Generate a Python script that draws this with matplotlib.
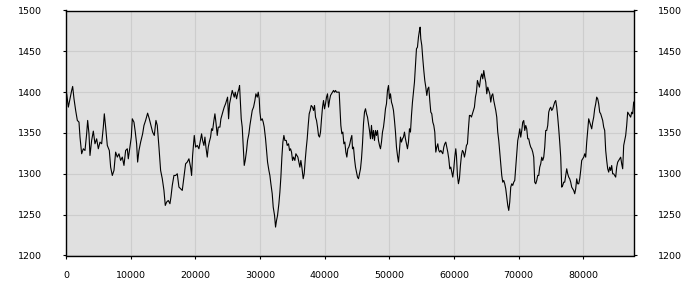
import numpy as np
import matplotlib
matplotlib.use('Agg')
import matplotlib.pyplot as plt

# ── データ ──────────────────────────────────────────────────────────
x_pts = [
    0, 103, 361, 618, 876, 1030, 1236, 1494, 1752, 2009, 2164, 2421, 2679, 2937,
    3194, 3349, 3555, 3709, 3967, 4225, 4482, 4740, 4997, 5255, 5513, 5770, 5925,
    6131, 6388, 6698, 6904, 7161, 7419, 7676, 7934, 8192, 8449, 8707, 8964, 9222,
    9480, 9634, 9892, 10098, 10252, 10510, 10716, 10922, 11077, 11283, 11540,
    11850, 12056, 12313, 12622, 12880, 13138, 13395, 13653, 13910, 14116, 14374,
    14632, 14889, 15147, 15353, 15559, 15817, 16074, 16229, 16435, 16692, 16950,
    17208, 17465, 17723, 17980, 18238, 18496, 18753, 19011, 19268, 19423, 19578,
    19835, 20041, 20299, 20556,
    20969, 21123, 21329, 21484, 21638, 21844, 22000, 22154, 22360, 22514, 22669,
    22875, 23029, 23184, 23390, 23545, 23802, 23957, 24163, 24317, 24472, 24678,
    24833, 24987, 25142, 25296, 25502, 25708, 25863, 26018, 26172, 26378, 26584,
    26739, 26842, 26945, 27099, 27254, 27409, 27563, 27718, 27924, 28078, 28284,
    28439, 28594, 28800, 29006, 29212, 29366, 29572, 29727, 29881, 29985, 30139,
    30345, 30500, 30654, 30860, 31015, 31170, 31376, 31530, 31685, 31891, 32045,
    32251, 32406, 32560, 32715, 32921, 33076, 33230, 33385, 33539, 33694, 33849,
    34055, 34209, 34415, 34570, 34724, 34879, 35034, 35188, 35394, 35549, 35703,
    35858, 36012, 36167, 36322, 36476, 36682, 36837, 36991, 37146, 37300, 37455,
    37610, 37764, 37919, 38125, 38279, 38434, 38589, 38743, 38898, 39052, 39207,
    39361, 39516, 39671, 39825, 39980, 40134, 40289, 40443, 40598, 40752, 40907,
    41062, 41216, 41371, 41525, 41680, 41834, 42092, 42246,
    42504, 42658, 42813, 42967, 43122, 43276, 43431, 43585, 43740, 43895, 44049,
    44204, 44307, 44461, 44616, 44770, 44925, 45080, 45234, 45389, 45543, 45698,
    45852, 46007, 46161, 46316, 46471, 46625, 46780, 46934, 47089, 47243, 47398,
    47552, 47707, 47862, 48016, 48171, 48325, 48480, 48634, 48789, 48944, 49098,
    49253, 49407, 49562, 49716, 49871, 50025, 50180, 50334, 50489, 50644, 50798,
    50953, 51107, 51262, 51416, 51571, 51725, 51880, 52035, 52189, 52344, 52498,
    52653, 52807, 52962, 53116, 53271, 53426, 53580, 53735, 53889, 54044, 54198,
    54353, 54507, 54662, 54765, 54868, 55023, 55177, 55332, 55486, 55641, 55796,
    55950, 56105, 56259, 56414, 56568, 56723, 56877, 57032, 57187, 57341, 57496,
    57650, 57805, 57959, 58114, 58268, 58423, 58578, 58732, 58887, 59041, 59196,
    59350, 59505, 59659, 59814, 59969, 60123, 60278, 60381, 60535, 60690, 60844,
    60999, 61153, 61308, 61463, 61617, 61772, 61926, 62081, 62235, 62390, 62545,
    62699, 62854, 63008, 63163, 63317, 63472, 63626, 63781, 63935,
    64143, 64297, 64452, 64606, 64761, 64915, 65070, 65224, 65379, 65534, 65688,
    65843, 65997, 66152, 66306, 66461, 66616, 66770, 66925, 67079, 67234, 67388,
    67543, 67697, 67852, 68007, 68161, 68316, 68470, 68625, 68779, 68934, 69088,
    69243, 69398, 69552, 69707, 69861, 70016, 70170, 70325, 70480, 70634, 70789,
    70943, 71098, 71252, 71407, 71561, 71716, 71871, 72025, 72180, 72334, 72489,
    72643, 72798, 72952, 73107, 73262, 73416, 73571, 73725, 73880, 74034, 74189,
    74344, 74498, 74653, 74807, 74962, 75116, 75271, 75425, 75580, 75735, 75889,
    76044, 76198, 76353, 76507, 76662, 76816, 76971, 77126, 77280, 77435, 77589,
    77744, 77898, 78053, 78207, 78362, 78517, 78671, 78826, 78980, 79135, 79289,
    79444, 79598, 79753, 79908, 80062, 80217, 80371, 80526, 80680, 80835, 80990,
    81144, 81299, 81453, 81608, 81762, 81917, 82071, 82226, 82381, 82535, 82690,
    82844, 82999, 83153, 83308, 83462, 83617, 83772, 83926, 84081, 84235, 84390,
    84544, 84699, 84853, 85008, 85163, 85317, 85472, 85626, 85781, 85935, 86090,
    86244, 86399, 86553, 86708, 86862, 87017, 87172, 87326, 87481, 87635, 87790,
]
y_pts = [
    1400.0, 1398.0, 1381.7, 1391.9, 1402.1, 1407.0, 1391.9, 1377.6, 1365.4, 1363.3,
    1345.0, 1324.6, 1330.7, 1328.6, 1349.0, 1365.4, 1349.0, 1322.5, 1340.9, 1352.3,
    1336.8, 1342.9, 1330.7, 1338.8, 1336.8, 1357.2, 1373.5, 1357.2, 1334.8, 1328.6,
    1308.2, 1298.0, 1304.2, 1326.6, 1320.5, 1324.6, 1316.4, 1320.5, 1310.3, 1328.6,
    1330.7, 1318.4, 1332.7, 1345.0, 1367.4, 1363.3, 1351.1, 1336.8, 1314.4, 1328.6,
    1338.8, 1349.0, 1359.2, 1365.4, 1374.3, 1367.4, 1359.2, 1351.1, 1347.0, 1365.4,
    1359.2, 1332.7, 1304.2, 1294.0, 1279.7, 1261.3, 1265.4, 1267.4, 1263.4, 1271.5,
    1285.8, 1298.0, 1298.0, 1300.1, 1283.8, 1281.7, 1279.7, 1296.0, 1312.3, 1314.4,
    1318.4, 1308.2, 1298.0, 1322.5, 1347.0, 1332.7, 1334.8, 1330.7,
    1349.0, 1340.9, 1334.8, 1345.0, 1332.7, 1320.5, 1332.7, 1338.8, 1345.0, 1355.2,
    1353.1, 1365.4, 1373.5, 1363.3, 1347.0, 1357.2, 1357.2, 1367.4, 1373.5, 1377.6,
    1381.7, 1385.8, 1389.8, 1393.9, 1367.4, 1385.8, 1393.9, 1402.1, 1398.0, 1393.9,
    1400.0, 1391.9, 1400.0, 1404.1, 1408.2, 1391.9, 1367.4, 1357.2, 1334.8, 1310.3,
    1316.4, 1328.6, 1340.9, 1349.0, 1359.2, 1367.4, 1377.6, 1381.7, 1389.8, 1398.0,
    1393.9, 1400.0, 1391.9, 1375.6, 1365.4, 1367.4, 1363.3, 1357.2, 1342.9, 1328.6,
    1314.4, 1304.2, 1298.0, 1287.8, 1275.6, 1259.3, 1249.1, 1234.8, 1243.0, 1249.1,
    1263.4, 1277.6, 1296.0, 1320.5, 1338.8, 1347.0, 1340.9, 1340.9, 1334.8, 1336.8,
    1328.6, 1330.7, 1326.6, 1316.4, 1320.5, 1316.4, 1324.6, 1322.5, 1320.5, 1314.4,
    1308.2, 1316.4, 1308.2, 1294.0, 1300.1, 1316.4, 1330.7, 1342.9, 1359.2, 1373.5,
    1377.6, 1383.7, 1381.7, 1377.6, 1383.7, 1369.4, 1365.4, 1357.2, 1347.0, 1345.0,
    1351.1, 1367.4, 1381.7, 1389.8, 1379.6, 1385.8, 1393.9, 1398.0, 1381.7, 1389.8,
    1396.0, 1398.0, 1400.0, 1402.1, 1400.0, 1402.1, 1400.0, 1400.0, 1400.0,
    1359.3, 1349.1, 1351.1, 1336.8, 1338.9, 1326.6, 1320.5, 1330.7, 1332.7, 1336.8,
    1342.9, 1347.0, 1330.7, 1332.7, 1318.5, 1308.3, 1302.1, 1296.0, 1294.0, 1300.1,
    1306.2, 1318.5, 1336.8, 1361.3, 1375.6, 1379.7, 1373.5, 1369.5, 1361.3, 1353.1,
    1342.9, 1359.3, 1342.9, 1353.1, 1340.9, 1353.1, 1347.0, 1353.1, 1340.9, 1334.8,
    1330.7, 1338.9, 1351.1, 1357.2, 1367.4, 1379.7, 1385.8, 1402.1, 1408.2, 1391.9,
    1398.0, 1387.8, 1383.7, 1377.6, 1365.4, 1351.1, 1332.7, 1322.5, 1314.4, 1328.7,
    1345.0, 1338.9, 1342.9, 1345.0, 1351.1, 1342.9, 1336.8, 1330.7, 1338.9, 1355.2,
    1351.1, 1371.5, 1387.8, 1400.1, 1412.3, 1432.7, 1453.1, 1455.1, 1467.4, 1475.5,
    1479.6, 1465.3, 1457.2, 1440.9, 1426.6, 1414.3, 1406.2, 1396.0, 1404.1, 1406.2,
    1389.8, 1375.6, 1373.5, 1363.3, 1359.3, 1351.1, 1326.6, 1332.7, 1336.8, 1328.7,
    1326.6, 1328.7, 1326.6, 1324.6, 1332.7, 1336.8, 1338.9, 1332.7, 1326.6, 1318.5,
    1306.2, 1308.3, 1302.1, 1296.0, 1306.2, 1320.5, 1330.7, 1322.5, 1298.1, 1287.9,
    1294.0, 1310.3, 1322.5, 1328.7, 1326.6, 1320.5, 1326.6, 1334.8, 1336.8, 1355.2,
    1371.5, 1371.5, 1369.5, 1373.5, 1377.6, 1381.7, 1393.9, 1400.1, 1414.3, 1410.3,
    1406.2,
    1418.4, 1422.4, 1416.3, 1426.5, 1418.4, 1412.2, 1398.0, 1406.1, 1402.0, 1398.0,
    1387.8, 1395.9, 1398.0, 1389.8, 1383.7, 1377.6, 1369.4, 1351.0, 1340.8, 1326.6,
    1312.3, 1298.0, 1289.8, 1291.9, 1287.8, 1281.7, 1271.5, 1261.3, 1255.2, 1265.4,
    1283.7, 1287.8, 1285.8, 1289.8, 1291.9, 1308.2, 1324.5, 1340.8, 1347.0, 1355.1,
    1344.9, 1353.1, 1363.3, 1365.3, 1353.1, 1359.2, 1355.1, 1342.9, 1342.9, 1336.8,
    1332.7, 1330.6, 1326.6, 1320.4, 1289.8, 1287.8, 1291.9, 1298.0, 1298.0, 1308.2,
    1312.3, 1320.4, 1316.4, 1320.4, 1332.7, 1353.1, 1353.1, 1359.2, 1375.5, 1379.6,
    1381.6, 1377.6, 1379.6, 1383.7, 1387.8, 1389.8, 1381.6, 1369.4, 1355.1, 1338.8,
    1320.4, 1283.7, 1285.8, 1289.8, 1289.8, 1298.0, 1306.2, 1300.0, 1296.0, 1293.9,
    1289.8, 1283.7, 1281.7, 1279.6, 1275.6, 1281.7, 1293.9, 1287.8, 1287.8, 1293.9,
    1304.1, 1316.4, 1318.4, 1320.4, 1324.5, 1320.4, 1338.8, 1353.1, 1367.4, 1363.3,
    1359.2, 1355.1, 1363.3, 1369.4, 1379.6, 1385.7, 1393.9, 1391.8, 1385.7, 1375.5,
    1373.5, 1369.4, 1365.3, 1357.2, 1353.1, 1328.6, 1316.4, 1306.2, 1302.1, 1308.2,
    1304.1, 1310.2, 1300.0, 1300.0, 1298.0, 1296.0, 1308.2, 1314.3, 1316.4, 1318.4,
    1320.4, 1312.3, 1306.2, 1334.7, 1340.8, 1347.0, 1359.2, 1375.5, 1373.5, 1371.4,
    1369.4, 1375.5, 1373.5, 1387.8,
]

X_MAX   = 87840
Y_TICKS = [1200, 1250, 1300, 1350, 1400, 1450, 1500]
X_TICKS = [0, 10000, 20000, 30000, 40000, 50000, 60000, 70000, 80000]

# ── 描画 ────────────────────────────────────────────────────────────────────
fig = plt.figure(figsize=(7, 3), dpi=100)
ax = fig.add_axes([66 / 700, 1 - 255.5 / 300, 568 / 700, 245 / 300])
ax.set_facecolor('#e0e0e0')

ax.plot(x_pts, y_pts, color='black', lw=0.8)

ax.set_xlim(0, X_MAX)
ax.set_ylim(1200, 1500)
ax.set_xticks(X_TICKS)
ax.set_yticks(Y_TICKS)
ax.grid(True, color='#cdcdcd', lw=0.8)
ax.set_axisbelow(True)

for sp in ax.spines.values():
    sp.set_color('black')
    sp.set_linewidth(1.0)

ax.tick_params(axis='y', which='both', direction='out', length=2, width=0.8,
               labelsize=6.8, pad=15, left=True, right=True,
               labelleft=True, labelright=True)
ax.tick_params(axis='x', direction='out', length=2, width=0.8,
               labelsize=6.8, pad=9)

fig.savefig('out.png', dpi=100, facecolor='white')
